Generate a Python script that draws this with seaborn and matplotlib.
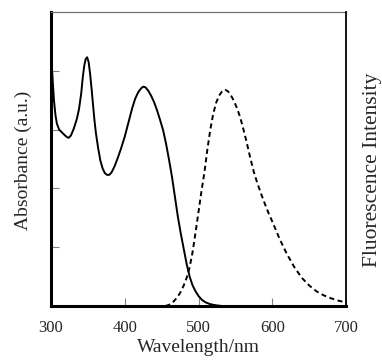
import pandas as pd
import matplotlib
matplotlib.use("Agg")
import matplotlib.pyplot as plt
import seaborn as sns

# absorbance spectrum (solid)
abs_wl = [300, 301, 302.5, 304, 306, 308, 311, 315, 319, 322, 324, 327, 331, 335, 338, 341,
          343, 345, 347, 349, 351, 353, 355, 357, 359, 361, 364, 367, 370, 373, 376, 379,
          382, 386, 390, 395, 400, 405, 410, 414, 418, 422, 425, 428, 432, 436, 440, 444,
          448, 452, 456, 460, 464, 468, 472, 476, 480, 484, 488, 492, 496, 500, 505, 510,
          515, 520, 525, 532]
abs_val = [4.35, 4.1, 3.8, 3.5, 3.25, 3.1, 3.0, 2.95, 2.9, 2.87, 2.86, 2.9, 3.02, 3.18, 3.35, 3.62,
           3.88, 4.08, 4.2, 4.23, 4.15, 3.95, 3.7, 3.42, 3.15, 2.93, 2.68, 2.47, 2.34, 2.26, 2.23, 2.23,
           2.27, 2.37, 2.5, 2.68, 2.88, 3.12, 3.36, 3.52, 3.63, 3.7, 3.73, 3.72, 3.66, 3.57, 3.46, 3.32,
           3.16, 2.99, 2.76, 2.49, 2.2, 1.86, 1.52, 1.23, 0.97, 0.71, 0.5, 0.35, 0.25, 0.17, 0.1, 0.06,
           0.035, 0.02, 0.01, 0.0]

# fluorescence spectrum (dashed)
fl_wl = [455, 460, 465, 470, 475, 480, 484, 488, 492, 496, 500, 504, 508, 512, 516, 520,
         524, 528, 532, 536, 540, 544, 548, 552, 556, 560, 565, 570, 575, 580, 588, 595,
         602, 610, 620, 630, 640, 650, 660, 670, 680, 690, 700]
fl_val = [0.0, 0.02, 0.06, 0.13, 0.22, 0.35, 0.48, 0.66, 0.92, 1.25, 1.6, 1.95, 2.27, 2.66, 3.0, 3.27,
          3.46, 3.58, 3.65, 3.68, 3.65, 3.58, 3.49, 3.37, 3.23, 3.05, 2.8, 2.53, 2.28, 2.08, 1.8, 1.58,
          1.38, 1.14, 0.88, 0.66, 0.48, 0.35, 0.25, 0.18, 0.13, 0.09, 0.06]

x_ticks = [300, 400, 500, 600, 700]


def main():
    sns.set_theme(style="ticks")
    plt.rcParams['font.family'] = ['Liberation Serif', 'DejaVu Serif']

    df_abs = pd.DataFrame({'wl': abs_wl, 'val': abs_val})
    df_fl = pd.DataFrame({'wl': fl_wl, 'val': fl_val})

    fig = plt.figure(figsize=(3.82, 3.63), dpi=100)
    ax = fig.add_axes([51 / 382, 1 - 306 / 363, 295 / 382, 294 / 363])
    ax2 = ax.twinx()

    sns.lineplot(data=df_abs, x='wl', y='val', ax=ax, color='black', lw=1.4, legend=False)
    sns.lineplot(data=df_fl, x='wl', y='val', ax=ax2, color='black', lw=1.4,
                 linestyle=(0, (2.6, 1.8)), legend=False)

    for a in (ax, ax2):
        a.set_xlim(300, 700)
        a.set_ylim(0, 5)

    ax.set_xticks(x_ticks)
    ax.set_xticklabels([str(t) for t in x_ticks], fontsize=12)
    ax.set_yticks([1, 2, 3, 4])
    ax.set_yticklabels([])
    ax.tick_params(axis='both', direction='in', length=6, width=0.8, color='#808080', pad=10)
    ax2.set_yticks([])

    ax.set_xlabel('Wavelength/nm', fontsize=14, labelpad=2)
    ax.set_ylabel('Absorbance (a.u.)', fontsize=14)
    ax.yaxis.set_label_coords(-0.064, 0.497)
    ax2.set_ylabel('Fluorescence Intensity', fontsize=15.5)
    ax2.yaxis.set_label_coords(1.056, 0.463)

    ax.spines['left'].set_linewidth(2.2)
    ax.spines['bottom'].set_linewidth(2.2)
    ax.spines['left'].set_color('black')
    ax.spines['bottom'].set_color('black')
    ax.spines['top'].set_linewidth(0.9)
    ax.spines['top'].set_color('#707070')
    ax.spines['right'].set_visible(False)
    for s in ('left', 'bottom', 'top'):
        ax2.spines[s].set_visible(False)
    ax2.spines['right'].set_linewidth(1.3)
    ax2.spines['right'].set_color('black')

    fig.savefig('out.png', dpi=100)


if __name__ == "__main__":
    main()
